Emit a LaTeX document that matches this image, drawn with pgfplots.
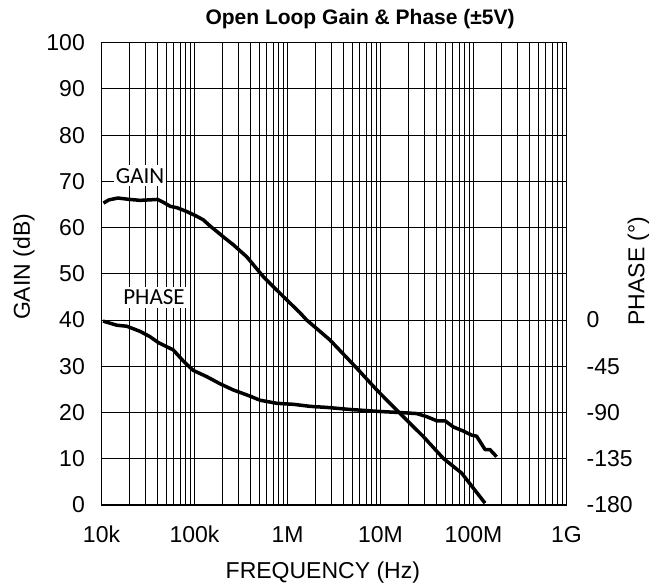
\documentclass[border=0pt]{standalone}
\usepackage{pgfplots}
\pgfplotsset{compat=1.18}
\usepackage{fontspec}
\setmainfont{Liberation Sans}
\newfontfamily\calibri{Carlito}
\newcommand\lblfont{\fontsize{23bp}{27bp}\selectfont}

\pgfplotstableread{
f      g
1.05e4 65.3
1.2e4  66.0
1.5e4  66.4
2.0e4  66.1
2.6e4  65.9
3.3e4  66.0
4.0e4  66.1
4.6e4  65.5
5.5e4  64.6
6.5e4  64.3
8.2e4  63.5
1.0e5  62.7
1.24e5 61.7
1.5e5  60.2
1.73e5 59.2
2.1e5  57.8
2.61e5 56.3
3.64e5 53.7
5.49e5 49.4
9.0e5  45.1
1.36e6 41.6
1.61e6 40.0
2.86e6 35.7
5.55e6 29.6
9.1e6  24.9
1.62e7 19.8
2.89e7 14.8
4.73e7 10.1
7.46e7 6.9
1.0e8  3.6
1.33e8 0.4
}\gaintable

\pgfplotstableread{
f      p
1.04e4 -1
1.46e4 -5
1.87e4 -6
2.6e4  -11
3.3e4  -16
4.1e4  -22
5.9e4  -29
7.6e4  -40
9.7e4  -49
1.35e5 -55
1.88e5 -62
2.61e5 -68
3.95e5 -74
5.06e5 -78
7.65e5 -81
1.16e6 -82
1.76e6 -84
2.64e6 -85
4.7e6  -87
9.9e6  -89
1.62e7 -90
2.45e7 -91
3.14e7 -94
4.02e7 -98
4.94e7 -98
6.07e7 -104
7.76e7 -108
9.56e7 -112
1.08e8 -113
1.33e8 -126
1.5e8  -126
1.77e8 -133
}\phasetable

\begin{document}
\begin{tikzpicture}
\path[use as bounding box] (-101.5bp,-79bp) rectangle (548.5bp,505bp);
\begin{axis}[
  at={(0,0)}, anchor=south west,
  scale only axis, width=465bp, height=462.3bp,
  xmode=log, xmin=1e4, xmax=1e9,
  ymin=0, ymax=100, ytick={0,10,...,100},
  xtick={1e4,1e5,1e6,1e7,1e8,1e9},
  xticklabels={10k,100k,1M,10M,100M,1G},
  minor xtick={2e4,3e4,4e4,5e4,6e4,7e4,8e4,9e4,
               2e5,3e5,4e5,5e5,6e5,7e5,8e5,9e5,
               2e6,3e6,4e6,5e6,6e6,7e6,8e6,9e6,
               2e7,3e7,4e7,5e7,6e7,7e7,8e7,9e7,
               2e8,3e8,4e8,5e8,6e8,7e8,8e8,9e8},
  grid=both,
  major grid style={black, line width=1.1bp},
  minor grid style={black, line width=1.1bp},
  major tick length=0pt, minor tick length=0pt,
  axis line style={black, line width=1.6bp},
  tick label style={font=\lblfont},
  /pgf/number format/assume math mode=true,
  yticklabel style={anchor=east, inner sep=0pt, xshift=-16.5bp},
  xticklabel style={anchor=base, inner sep=0pt, yshift=-37.7bp},
  xlabel={FREQUENCY (Hz)},
  xlabel style={at={(axis description cs:0.476,0)}, anchor=base, yshift=-73bp, font=\lblfont, inner sep=0pt},
  ylabel={GAIN (dB)},
  ylabel style={at={(axis description cs:-0.1667,0.515)}, anchor=center, font=\lblfont, inner sep=0pt},
  title={Open Loop Gain \& Phase (±5V)},
  title style={at={(axis description cs:0.556,1)}, anchor=base, yshift=12.7bp, inner sep=0pt, font=\bfseries\fontsize{21bp}{25bp}\selectfont},
]
\addplot[black, line width=3.5bp, line join=round, no markers] table[x=f, y=g] {\gaintable};
\node[fill=white, inner xsep=2bp, inner ysep=3bp, anchor=base, font=\calibri\lblfont] at (axis cs:2.6e4,69.6) {GAIN};
\node[fill=white, inner xsep=2bp, inner ysep=3bp, anchor=base, font=\calibri\lblfont] at (axis cs:3.67e4,43.3) {PHASE};
\end{axis}
\begin{axis}[
  at={(0,0)}, anchor=south west,
  scale only axis, width=465bp, height=462.3bp,
  xmode=log, xmin=1e4, xmax=1e9,
  axis x line=none,
  axis y line*=right,
  y axis line style={draw=none},
  ymin=-180, ymax=270,
  ytick={-180,-135,-90,-45,0},
  yticklabels={-180,-135,-90,-45,0},
  major tick length=0pt,
  tick label style={font=\lblfont},
  yticklabel style={anchor=west, inner sep=0pt, xshift=20bp},
  ylabel={PHASE (°)},
  ylabel style={at={(axis description cs:1.1548,0.506)}, anchor=center, font=\lblfont, inner sep=0pt},
]
\addplot[black, line width=3.5bp, line join=round, no markers] table[x=f, y=p] {\phasetable};
\end{axis}
\end{tikzpicture}
\end{document}
